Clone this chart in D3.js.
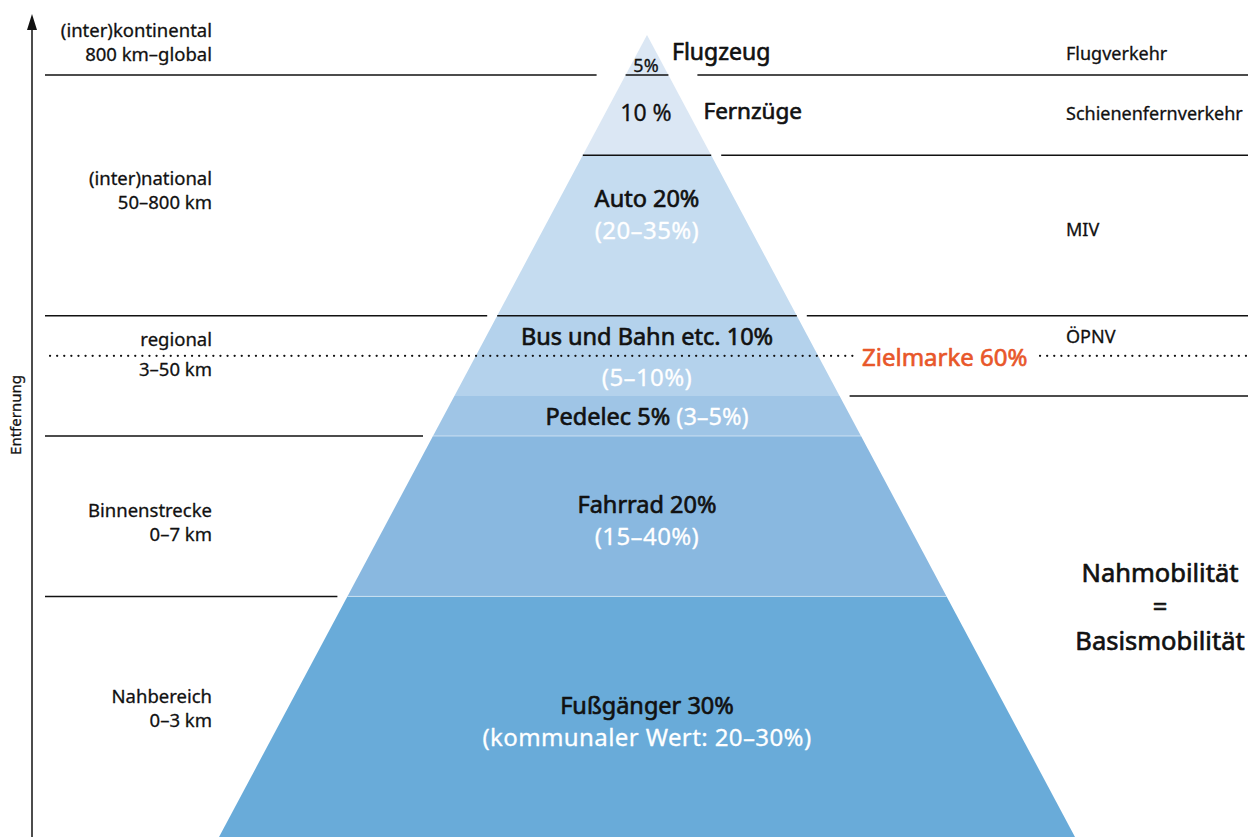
<!DOCTYPE html>
<html>
<head>
<meta charset="utf-8">
<script src="https://cdn.jsdelivr.net/npm/d3@7"></script>
<style>
  body { margin: 0; background: #fff; }
  svg { display: block; font-family: "Noto Sans", Roboto, sans-serif; }
  .semi { stroke: currentColor; stroke-width: 0.65px; stroke-linejoin: round; }
  .medium { stroke: currentColor; stroke-width: 0.3px; stroke-linejoin: round; }
</style>
</head>
<body>
<svg id="chart" width="1252" height="837"></svg>
<script>
// modes from the top of the pyramid down to its base
const modes = ["Flugzeug", "Fernzüge", "Auto", "Bus und Bahn etc.", "Pedelec", "Fahrrad", "Fußgänger"];
const shares = [5, 10, 20, 10, 5, 20, 30];
const ranges = [null, null, "20–35%", "5–10%", "3–5%", "15–40%", "kommunaler Wert: 20–30%"];
const labelLevels = [95.4, 89.3, 78.6, 61.3, 51.4, 40.4, 15.3];

// distance bands (left) and traffic kinds (right), level = cumulative share
const distNames = ["(inter)kontinental", "(inter)national", "regional", "Binnenstrecke", "Nahbereich"];
const distRanges = ["800 km–global", "50–800 km", "3–50 km", "0–7 km", "0–3 km"];
const distLabelLevels = [99.0, 80.5, 60.1, 39.2, 16.0];
const leftLineLevels = [95, 65, 50, 30];

const trafficKinds = ["Flugverkehr", "Schienenfernverkehr", "MIV", "ÖPNV"];
const trafficLevels = [97.6, 90.1, 75.7, 62.3];
const rightLineLevels = [95, 85, 65, 55];

const innerLineLevels = [95, 85, 65];
const targetLevel = 60;
const targetLabel = "Zielmarke 60%";
const baseMobility = ["Nahmobilität", "=", "Basismobilität"];
const baseMobilityLevel = 28.7;

const colors = ["#dbe7f4", "#dbe7f4", "#c5dcf0", "#b4d2ec", "#9fc5e6", "#89b8e0", "#69abd9"];

const svg = d3.select("#chart");
const cx = 647;
const y = d3.scaleLinear().domain([0, 100]).range([837, 35]);
const half = d3.scaleLinear().domain([0, 100]).range([428, 0]);

// cumulative bands from the top
let level = 100;
const layers = modes.map((m, i) => {
    const d = {name: m, share: shares[i], range: ranges[i], hi: level, lo: level - shares[i], labelLevel: labelLevels[i], color: colors[i]};
    level -= shares[i];
    return d;
});

const gPyr = svg.append("g");
gPyr.selectAll("path.layer").data(layers).enter().append("path")
    .attr("class", "layer")
    .attr("fill", d => d.color)
    .attr("d", d => d3.line()([
        [cx - half(d.hi), y(d.hi)], [cx + half(d.hi), y(d.hi)],
        [cx + half(d.lo), y(d.lo)], [cx - half(d.lo), y(d.lo)]
    ]) + "Z");

// faint white seams between the lower bands
gPyr.selectAll("line.seam").data([50, 30]).enter().append("line")
    .attr("x1", d => cx - half(d)).attr("x2", d => cx + half(d))
    .attr("y1", d => y(d)).attr("y2", d => y(d))
    .attr("stroke", "#ffffff").attr("stroke-opacity", 0.5).attr("stroke-width", 1);

// black boundaries inside the pyramid
gPyr.selectAll("line.inner").data(innerLineLevels).enter().append("line")
    .attr("x1", d => cx - half(d)).attr("x2", d => cx + half(d))
    .attr("y1", d => y(d)).attr("y2", d => y(d))
    .attr("stroke", "#111").attr("stroke-width", 1.5);

// outer separator lines
const gapFor = d => d === 95 ? 29 : 10;
svg.selectAll("line.left").data(leftLineLevels).enter().append("line")
    .attr("x1", 45).attr("x2", d => cx - half(d) - gapFor(d))
    .attr("y1", d => y(d)).attr("y2", d => y(d))
    .attr("stroke", "#111").attr("stroke-width", 1.5);
svg.selectAll("line.right").data(rightLineLevels).enter().append("line")
    .attr("x1", d => cx + half(d) + gapFor(d)).attr("x2", 1248)
    .attr("y1", d => y(d)).attr("y2", d => y(d))
    .attr("stroke", "#111").attr("stroke-width", 1.5);

// target line (dotted), broken around its label
const ty = y(targetLevel);
svg.append("line")
    .attr("x1", 50).attr("x2", 854).attr("y1", ty).attr("y2", ty)
    .attr("stroke", "#111").attr("stroke-width", 2.2)
    .attr("stroke-dasharray", "0.1 7").attr("stroke-linecap", "round");
svg.append("line")
    .attr("x1", 1040).attr("x2", 1248).attr("y1", ty).attr("y2", ty)
    .attr("stroke", "#111").attr("stroke-width", 2.2)
    .attr("stroke-dasharray", "0.1 7").attr("stroke-linecap", "round");
svg.append("text")
    .attr("class", "semi")
    .attr("x", 862).attr("y", ty + 10)
    .attr("fill", "#e8572a").style("color", "#e8572a").attr("font-size", 24)
    .text(targetLabel);

// labels inside / beside the pyramid
const gLab = svg.append("g").attr("fill", "#111").style("color", "#111");
layers.forEach((d, i) => {
    const ly = y(d.labelLevel);
    if (i < 2) {
        // share inside, mode name outside right
        gLab.append("text")
            .attr("class", "medium")
            .attr("x", cx - 1).attr("y", ly)
            .attr("text-anchor", "middle")
            .attr("font-size", i === 0 ? 18 : 23)
            .text(i === 0 ? d.share + "%" : d.share + " %");
        const ny = i === 0 ? y(96.9) : ly - 2;
        const edgeLevel = (837 - ny + 8) / 8.02;
        gLab.append("text")
            .attr("class", "semi")
            .attr("x", cx + half(edgeLevel) + 16).attr("y", ny)
            .attr("font-size", i === 0 ? 23 : 22.5)
            .text(d.name);
        return;
    }
    const t = gLab.append("text")
        .attr("x", cx).attr("y", ly)
        .attr("text-anchor", "middle")
        .attr("font-size", 23.5);
    t.append("tspan").attr("class", "semi").text(d.name + " " + d.share + "%");
    if (d.name === "Pedelec") {
        t.append("tspan").attr("class", "medium")
            .attr("fill", "#fff").style("color", "#fff").text(" (" + d.range + ")");
        return;
    }
    gLab.append("text")
        .attr("class", "medium")
        .attr("x", cx).attr("y", ly + (d.name === "Bus und Bahn etc." ? 41 : 32))
        .attr("text-anchor", "middle")
        .attr("font-size", 24)
        .attr("letter-spacing", 0.4)
        .attr("fill", "#fff").style("color", "#fff")
        .text("(" + d.range + ")");
});

// distance bands on the left
const gLeft = svg.append("g").attr("class", "medium").attr("fill", "#111").style("color", "#111")
    .attr("font-size", 18.5).attr("text-anchor", "end");
distNames.forEach((n, i) => {
    const c = y(distLabelLevels[i]);
    const sep = i === 2 ? 15 : 12;
    gLeft.append("text").attr("x", 212).attr("y", c - sep + 6).text(n);
    gLeft.append("text").attr("x", 212).attr("y", c + sep + 6).text(distRanges[i]);
});

// traffic kinds on the right
svg.append("g").attr("class", "medium").attr("fill", "#111").style("color", "#111").attr("font-size", 18)
    .selectAll("text").data(trafficKinds).enter().append("text")
    .attr("x", 1066).attr("y", (d, i) => y(trafficLevels[i]) + 6)
    .text(d => d);

const by = y(baseMobilityLevel);
svg.append("g").attr("class", "semi").attr("fill", "#111").style("color", "#111")
    .attr("font-size", 25.5).attr("text-anchor", "middle")
    .selectAll("text").data(baseMobility).enter().append("text")
    .attr("x", 1160).attr("y", (d, i) => by + (i - 1) * 34 + 9)
    .text(d => d);

// distance axis with arrow
svg.append("line").attr("x1", 32).attr("x2", 32).attr("y1", 837).attr("y2", 24)
    .attr("stroke", "#111").attr("stroke-width", 1.5);
svg.append("path").attr("d", "M32,14 L27,30 L37,30 Z").attr("fill", "#111");
svg.append("text")
    .attr("class", "medium").style("color", "#111")
    .attr("transform", "translate(21,415) rotate(-90)")
    .attr("text-anchor", "middle").attr("font-size", 15).attr("fill", "#111")
    .text("Entfernung");
</script>
</body>
</html>
